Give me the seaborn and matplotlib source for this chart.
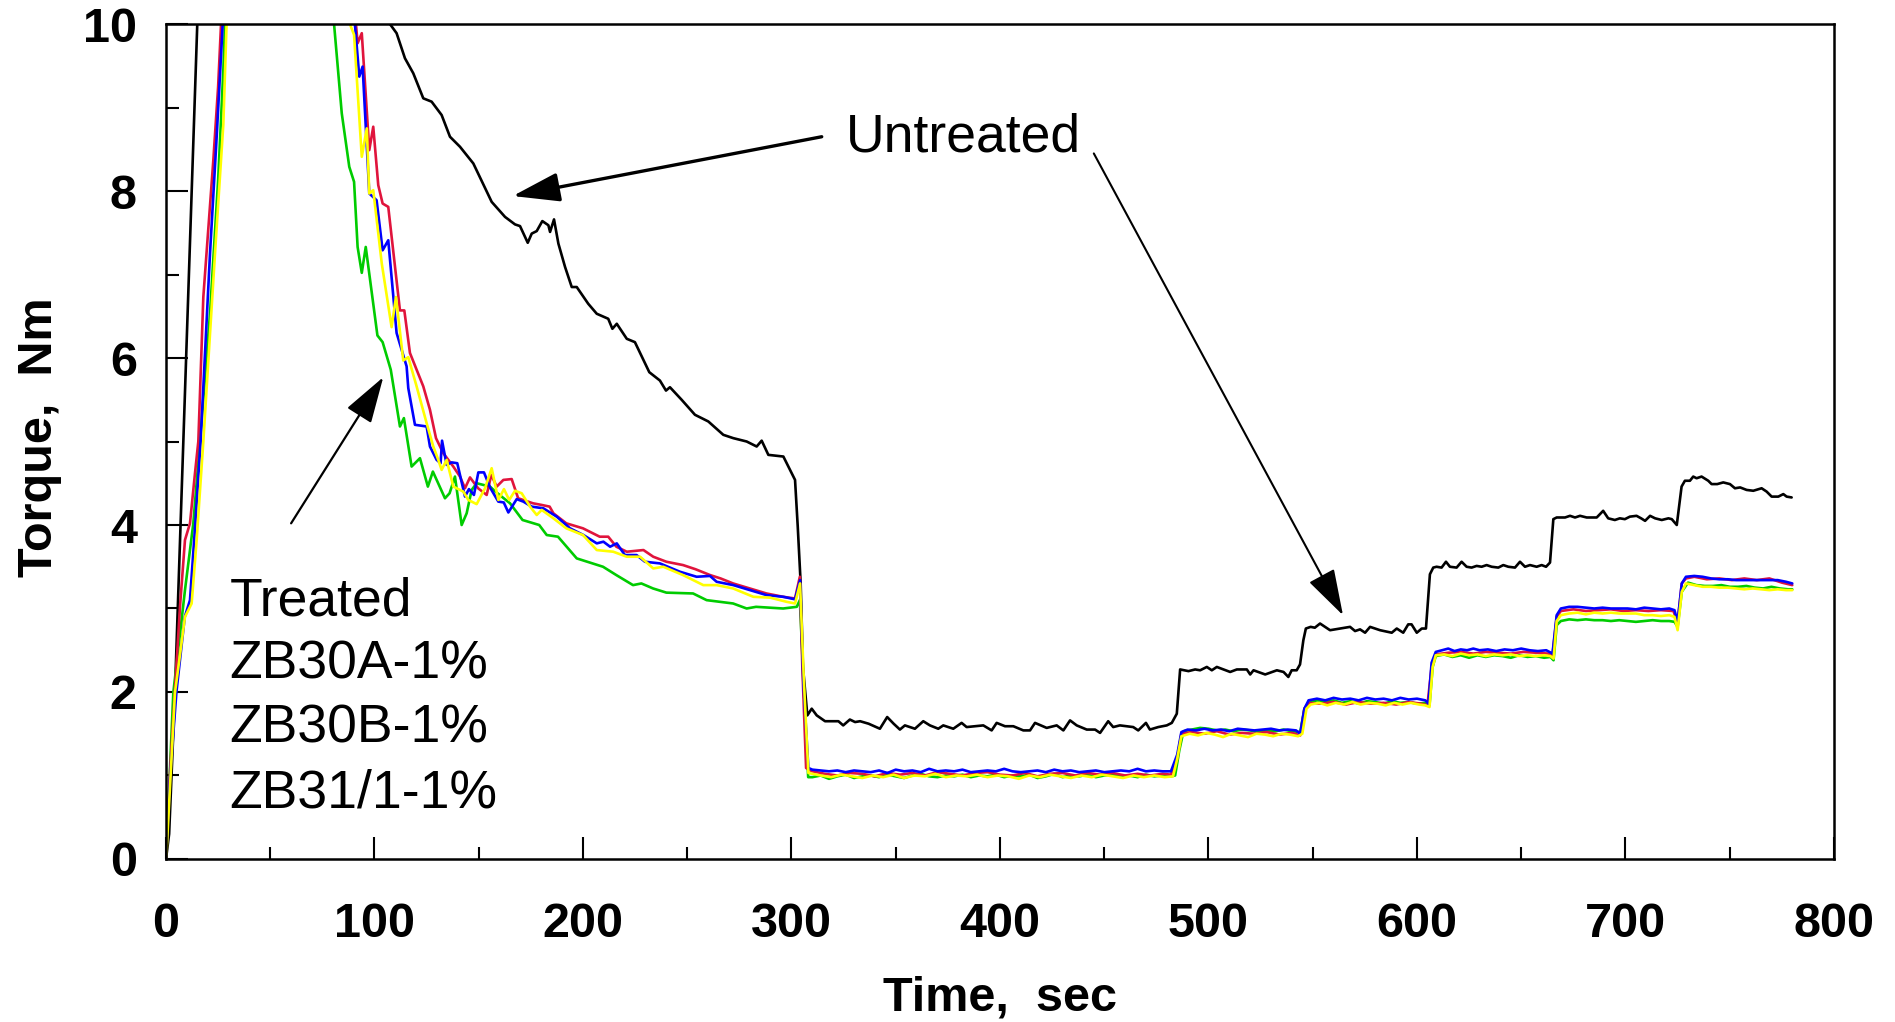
import numpy as np
import pandas as pd
import matplotlib
matplotlib.use("Agg")
import matplotlib.pyplot as plt
import seaborn as sns
from matplotlib.ticker import MultipleLocator

# torque traces as (time s, torque Nm)
# values above 10 are off the top of the plot and only keep the line going
untreated = [
    (0, 0), (1.5, 0.3), (4.3, 2.0), (8.3, 5.0), (15, 10.0), (18, 12.0), (60, 14.0), (104, 11.0),
    (107.4, 10.0), (110.6, 9.89), (114.6, 9.59), (118.6, 9.41), (123.4, 9.11), (127.4, 9.07),
    (132.2, 8.91), (136.2, 8.65), (141, 8.53), (147.4, 8.33), (156.2, 7.87), (162.6, 7.69),
    (167.4, 7.6), (169.8, 7.58), (173.5, 7.38), (175.4, 7.49), (177.8, 7.52), (180.5, 7.64),
    (183.4, 7.59), (184.2, 7.51), (186.1, 7.66), (188.2, 7.37), (191.4, 7.09), (194.6, 6.85),
    (197, 6.85), (202.5, 6.65), (206.6, 6.53), (212.1, 6.47), (214.1, 6.35), (216.2, 6.41),
    (221, 6.23), (224.9, 6.19), (231.8, 5.83), (236.9, 5.73), (239.8, 5.61), (241.7, 5.65),
    (247.3, 5.5), (253.7, 5.32), (260.1, 5.24), (267.3, 5.08), (272.1, 5.04), (278.5, 5.0),
    (283.3, 4.94), (285.7, 5.01), (288.9, 4.84), (296.1, 4.82), (299.3, 4.66), (301.7, 4.54),
    (303.0, 3.98), (304.4, 3.3), (305.5, 2.3), (307.6, 1.72), (309.7, 1.8), (312.1, 1.72),
    (316.1, 1.65), (322.5, 1.65), (324.8, 1.60), (328, 1.67), (330.5, 1.64), (332.9, 1.65),
    (337, 1.62), (342.4, 1.56), (345.9, 1.70), (349, 1.62), (352, 1.55), (354.4, 1.6),
    (359.2, 1.56), (363.2, 1.65), (366.4, 1.6), (370.4, 1.56), (372.8, 1.6), (377.6, 1.56),
    (381.6, 1.63), (384, 1.58), (392, 1.6), (396, 1.54), (398.4, 1.63), (402.4, 1.59),
    (406.4, 1.59), (411.2, 1.54), (414.4, 1.54), (416.8, 1.63), (422.4, 1.57), (427.2, 1.6),
    (430.4, 1.54), (433.6, 1.66), (436.8, 1.6), (441.6, 1.55), (445.6, 1.55), (448, 1.51),
    (451.9, 1.65), (454.3, 1.58), (457.5, 1.6), (463.9, 1.58), (466.3, 1.54), (470, 1.63),
    (471.9, 1.55), (475.9, 1.58), (480, 1.60), (482.4, 1.63), (484.8, 1.74), (486.4, 2.27),
    (490.4, 2.25), (493.6, 2.27), (496, 2.26), (499.2, 2.30), (501.6, 2.26), (504, 2.30),
    (510.4, 2.24), (513.6, 2.27), (518.4, 2.27), (520, 2.21), (521.6, 2.26), (527.2, 2.21),
    (532.8, 2.26), (536, 2.24), (538.3, 2.18), (539.9, 2.26), (542.3, 2.26), (543.9, 2.33),
    (545.5, 2.62), (546.7, 2.76), (549, 2.78), (551, 2.77), (553.5, 2.82), (558.3, 2.74),
    (563.1, 2.76), (567.9, 2.78), (570.3, 2.73), (572.7, 2.75), (575.1, 2.71), (577.5, 2.78),
    (582.3, 2.74), (587.9, 2.71), (590.3, 2.76), (593.4, 2.71), (595.8, 2.81), (597.4, 2.81),
    (599.9, 2.71), (602.3, 2.76), (604.3, 2.76), (606.2, 3.41), (607.8, 3.49), (609.4, 3.5),
    (611.8, 3.49), (613.9, 3.56), (615.8, 3.5), (619, 3.49), (621.4, 3.56), (623.8, 3.5),
    (626.2, 3.49), (628.6, 3.51), (631, 3.5), (633.4, 3.52), (635.8, 3.5), (639, 3.49),
    (641.4, 3.52), (643.8, 3.5), (647, 3.49), (649.4, 3.56), (651.8, 3.5), (654.2, 3.52),
    (657.4, 3.5), (659.8, 3.52), (661.9, 3.5), (663.8, 3.55), (665.4, 4.07), (667, 4.09),
    (671, 4.09), (673.4, 4.11), (675.8, 4.09), (678.2, 4.11), (681.4, 4.09), (686.2, 4.09),
    (689.3, 4.17), (691.7, 4.08), (694.9, 4.06), (697.3, 4.08), (699.7, 4.07), (702.1, 4.1),
    (705.3, 4.11), (707.5, 4.08), (709.4, 4.05), (711.8, 4.11), (714.2, 4.08), (717.4, 4.06),
    (720.6, 4.08), (722.2, 4.07), (724.6, 4.0), (726.9, 4.46), (728.5, 4.53), (730.9, 4.53),
    (732.5, 4.58), (734.1, 4.56), (736.5, 4.58), (739.7, 4.53), (741.3, 4.49), (744, 4.49),
    (746.9, 4.51), (750.1, 4.49), (752.5, 4.44), (755, 4.45), (758.1, 4.42), (761.3, 4.41),
    (765.3, 4.44), (767.7, 4.4), (770.1, 4.34), (773.3, 4.34), (775.7, 4.37), (777.3, 4.34),
    (779.7, 4.33),
]

green_trace = [
    (0, 0), (3.5, 1.99), (9.1, 3.22), (13.1, 4.02), (16.3, 5.0), (21.1, 6.53), (25, 8.13),
    (27.5, 9.45), (28.3, 10.0), (31, 12.5), (76, 12.5), (80.6, 10.0), (84.3, 8.93), (87.9, 8.29),
    (90.2, 8.11), (91.9, 7.33), (93.9, 7.02), (95.8, 7.33), (101.4, 6.27), (103.9, 6.19),
    (107.8, 5.86), (112.2, 5.18), (114.1, 5.28), (117.8, 4.7), (121.8, 4.8), (125.6, 4.46),
    (128, 4.64), (133.8, 4.32), (136, 4.38), (138.6, 4.58), (141.8, 4.0), (144.2, 4.14),
    (146.6, 4.42), (149, 4.5), (155.4, 4.46), (158, 4.4), (165, 4.26), (171, 4.06), (179, 4.0),
    (182.6, 3.88), (188, 3.86), (197, 3.6), (209.6, 3.5), (216, 3.4), (224, 3.28), (228, 3.3),
    (233.6, 3.24), (240, 3.19), (252.8, 3.18), (259.3, 3.10), (272, 3.06), (278.5, 3.0),
    (283, 3.02), (296, 3.0), (302.5, 3.02), (304, 3.1), (306, 2.0), (308, 0.98),
    (310, 0.98), (314, 1.0), (318, 0.96), (322, 0.99), (326, 1.01), (330, 0.97), (334, 0.99),
    (338, 1.0), (342, 0.98), (346, 1.01), (350, 0.99), (354, 0.97), (358, 1.0), (362, 1.02),
    (366, 0.99), (370, 0.98), (374, 1.0), (378, 0.99), (382, 1.01), (386, 0.98), (390, 1.0),
    (394, 0.99), (398, 1.01), (402, 0.98), (406, 1.0), (410, 0.99), (414, 1.01), (418, 0.97),
    (422, 0.99), (426, 1.02), (430, 0.98), (434, 1.0), (438, 0.99), (442, 1.01), (446, 0.98),
    (450, 1.0), (454, 1.01), (458, 0.99), (462, 1.0), (466, 0.98), (470, 1.01), (474, 0.99),
    (478, 1.0), (482, 0.99), (484, 1.0), (486, 1.3), (488, 1.53), (492, 1.55), (496, 1.57),
    (500, 1.56), (504, 1.54), (508, 1.55), (512, 1.53), (516, 1.55), (520, 1.54), (524, 1.52),
    (528, 1.54), (532, 1.53), (536, 1.55), (540, 1.53), (544, 1.52), (546, 1.8), (548, 1.87),
    (552, 1.9), (556, 1.88), (560, 1.9), (564, 1.87), (568, 1.89), (572, 1.86), (576, 1.89),
    (580, 1.88), (584, 1.86), (588, 1.89), (592, 1.87), (596, 1.88), (600, 1.86), (604, 1.87),
    (606, 1.84), (607.5, 2.3), (609, 2.43), (613, 2.45), (617, 2.42), (621, 2.44), (625, 2.41),
    (629, 2.44), (633, 2.42), (637, 2.44), (641, 2.43), (645, 2.41), (649, 2.44), (653, 2.42),
    (657, 2.43), (661, 2.41), (664, 2.42), (665.5, 2.38), (667, 2.8), (669, 2.85), (673, 2.87),
    (677, 2.86), (681, 2.87), (685, 2.86), (689, 2.86), (693, 2.85), (697, 2.86), (701, 2.85),
    (705, 2.84), (709, 2.85), (713, 2.86), (717, 2.85), (721, 2.85), (723.5, 2.84), (725, 2.78),
    (727, 3.2), (730, 3.31), (734, 3.28), (738, 3.27), (742, 3.27), (746, 3.28), (750, 3.26),
    (754, 3.26), (758, 3.27), (762, 3.25), (766, 3.24), (770, 3.26), (774, 3.24), (778, 3.23),
    (780, 3.23),
]

red_trace = [
    (0, 0), (1.9, 1.03), (4.3, 2.02), (6.7, 3.02), (9.1, 3.82), (11.5, 4.02), (13.9, 4.62),
    (15.5, 5.0), (17.9, 6.73), (22.7, 8.37), (25, 9.25), (26.4, 10.0), (30, 12.5), (85, 12.5),
    (91.1, 10.0), (91.9, 9.77), (93.9, 9.89), (97.5, 8.49), (99.4, 8.77), (101.8, 8.07),
    (103.9, 7.85), (106.6, 7.81), (112.2, 6.57), (114.3, 6.57), (117, 6.06), (123.4, 5.66),
    (126.6, 5.38), (129.5, 5.04), (133, 4.86), (137.8, 4.70), (141, 4.58), (143.4, 4.44),
    (145.8, 4.57), (149.7, 4.44), (153.8, 4.36), (156, 4.6), (158.6, 4.46), (161.8, 4.54),
    (165.8, 4.55), (168.9, 4.32), (176, 4.26), (180.2, 4.24), (184, 4.22), (185.8, 4.14),
    (192, 4.02), (200, 3.96), (208, 3.86), (212.1, 3.86), (216, 3.74), (221, 3.68), (229, 3.70),
    (233.7, 3.62), (240, 3.56), (248, 3.52), (254, 3.47), (261, 3.40), (266, 3.36), (272, 3.30),
    (280, 3.24), (288, 3.18), (296, 3.14), (301.7, 3.12), (304, 3.38), (305.2, 2.3), (307, 1.09),
    (310, 1.05), (316, 1.02), (322, 1.0), (328, 1.03), (334, 1.02), (340, 0.99), (346, 1.03),
    (352, 1.01), (358, 1.03), (364, 1.0), (370, 1.04), (376, 1.02), (382, 1.0), (388, 1.03),
    (394, 1.04), (400, 1.01), (406, 1.0), (412, 1.03), (418, 0.99), (424, 1.02), (430, 1.03),
    (436, 1.0), (442, 1.03), (448, 1.01), (454, 1.03), (460, 1.0), (466, 1.02), (472, 1.0),
    (478, 1.02), (482, 1.01), (485, 1.2), (487, 1.5), (492, 1.52), (498, 1.5), (504, 1.53),
    (510, 1.49), (516, 1.51), (522, 1.5), (528, 1.52), (534, 1.49), (540, 1.51), (544, 1.48),
    (546, 1.8), (548, 1.87), (554, 1.86), (560, 1.88), (566, 1.85), (572, 1.88), (578, 1.86),
    (584, 1.87), (590, 1.85), (596, 1.88), (602, 1.86), (605, 1.84), (607, 2.3), (609, 2.45),
    (615, 2.47), (621, 2.48), (627, 2.46), (633, 2.48), (639, 2.47), (645, 2.46), (651, 2.48),
    (657, 2.47), (663, 2.46), (665, 2.44), (667, 2.9), (669, 2.97), (675, 2.99), (681, 2.97),
    (687, 2.98), (693, 2.99), (699, 2.97), (705, 2.98), (711, 2.97), (717, 2.98), (723, 2.97),
    (725, 2.83), (727, 3.3), (729, 3.36), (733, 3.38), (739, 3.35), (745, 3.36), (751, 3.34),
    (757, 3.36), (763, 3.34), (769, 3.36), (775, 3.31), (780, 3.28),
]

blue_trace = [
    (0, 0), (2, 1.0), (5, 2.0), (9, 2.9), (11.5, 3.1), (14, 4.0), (16.6, 5.0), (21.1, 7.25),
    (24.3, 8.65), (27.2, 10.0), (30, 12.5), (85, 12.5), (90.6, 10.0), (92.7, 9.37), (94.3, 9.49),
    (97.5, 7.97), (101, 7.89), (103.9, 7.29), (106.6, 7.41), (110.6, 6.3), (115.4, 5.9),
    (116.2, 5.64), (119.4, 5.20), (125, 5.18), (126.6, 4.94), (129.8, 4.78), (131.7, 4.74),
    (132.4, 5.01), (134.6, 4.72), (137, 4.75), (139.7, 4.74), (143.4, 4.34), (145.3, 4.43),
    (147.7, 4.36), (149.8, 4.63), (152.5, 4.63), (155.4, 4.45), (159.4, 4.28), (162, 4.27),
    (164.2, 4.15), (168.2, 4.31), (171.4, 4.28), (175.4, 4.22), (181, 4.2), (187.4, 4.10),
    (193.8, 3.96), (200.2, 3.88), (206.6, 3.78), (209.8, 3.80), (213, 3.74), (216.2, 3.78),
    (220.1, 3.64), (225.7, 3.64), (229.7, 3.56), (236.9, 3.54), (246.5, 3.44), (254.5, 3.38),
    (260.9, 3.39), (264.1, 3.32), (272.1, 3.28), (280.1, 3.22), (288.1, 3.16), (296.1, 3.14),
    (301.7, 3.11), (304.1, 3.34), (305.7, 2.1), (308.1, 1.09),
    (310, 1.07), (314, 1.06), (318, 1.05), (322, 1.06), (326, 1.04), (330, 1.06), (334, 1.05),
    (338, 1.04), (342, 1.06), (346, 1.03), (350, 1.07), (354, 1.05), (358, 1.06), (362, 1.04),
    (366, 1.08), (370, 1.05), (374, 1.06), (378, 1.05), (382, 1.07), (386, 1.04), (390, 1.05),
    (394, 1.06), (398, 1.05), (402, 1.08), (406, 1.05), (410, 1.04), (414, 1.05), (418, 1.06),
    (422, 1.04), (426, 1.07), (430, 1.05), (434, 1.06), (438, 1.04), (442, 1.05), (446, 1.06),
    (450, 1.04), (454, 1.05), (458, 1.06), (462, 1.05), (466, 1.08), (470, 1.05), (474, 1.06),
    (478, 1.05), (482, 1.05), (485, 1.25), (487, 1.52), (490, 1.55), (494, 1.54), (498, 1.56),
    (502, 1.54), (506, 1.55), (510, 1.53), (514, 1.56), (518, 1.55), (522, 1.54), (526, 1.55),
    (530, 1.56), (534, 1.54), (538, 1.55), (542, 1.54), (544, 1.50), (546, 1.8), (548, 1.90),
    (552, 1.92), (556, 1.9), (560, 1.93), (564, 1.91), (568, 1.92), (572, 1.9), (576, 1.93),
    (580, 1.91), (584, 1.92), (588, 1.9), (592, 1.93), (596, 1.91), (600, 1.92), (604, 1.9),
    (605.5, 1.86), (607, 2.35), (609, 2.48), (612, 2.5), (615, 2.52), (618, 2.49), (621, 2.51),
    (624, 2.5), (627, 2.52), (630, 2.5), (634, 2.51), (638, 2.49), (642, 2.51), (646, 2.5),
    (650, 2.52), (654, 2.5), (658, 2.49), (662, 2.5), (665, 2.46), (667, 2.92), (669, 3.0),
    (673, 3.02), (677, 3.02), (681, 3.01), (685, 3.0), (689, 3.01), (693, 3.0), (697, 3.0),
    (701, 3.0), (705, 2.99), (709, 3.01), (713, 3.0), (717, 2.99), (721, 3.0), (723.5, 2.98),
    (725, 2.84), (727, 3.3), (729, 3.38), (733, 3.39), (737, 3.38), (741, 3.36), (745, 3.35),
    (749, 3.35), (753, 3.34), (757, 3.34), (761, 3.34), (765, 3.34), (769, 3.34), (773, 3.34),
    (777, 3.32), (780, 3.3),
]

yellow_trace = [
    (0, 0), (0.3, 0.1), (4.3, 1.99), (9.1, 2.9), (12.3, 3.06), (14.7, 3.82), (17.9, 5.0),
    (23.5, 7.25), (27.5, 8.8), (29.1, 10.0), (32, 12.5), (85, 12.5), (88.2, 10.0), (90.2, 9.87),
    (93.9, 8.41), (96.3, 8.75), (97.5, 7.97), (99.4, 8.01), (103.5, 7.13), (108.2, 6.37),
    (110.3, 6.73), (113.8, 5.97), (116.2, 6.01), (120.2, 5.66), (125, 5.22), (128.2, 4.94),
    (130.6, 4.78), (132.2, 4.66), (134.6, 4.78), (137.8, 4.46), (142.6, 4.40), (145, 4.30),
    (149, 4.25), (153, 4.44), (156.2, 4.68), (159.4, 4.30), (162.1, 4.43), (164.6, 4.30),
    (167.4, 4.41), (170.6, 4.38), (174.6, 4.22), (177.8, 4.12), (180.2, 4.18), (185.8, 4.08),
    (192, 3.96), (200, 3.88), (206.6, 3.70), (214.5, 3.68), (221, 3.62), (227.4, 3.62),
    (233.7, 3.48), (238.5, 3.50), (248, 3.40), (257.7, 3.28), (264.1, 3.28), (272, 3.24),
    (281.7, 3.14), (289.7, 3.13), (297.7, 3.08), (301.7, 3.06), (304.1, 3.30), (306, 2.1),
    (308.1, 1.03),
    (310, 1.02), (314, 1.0), (319, 0.98), (324, 1.01), (329, 0.99), (334, 0.97), (339, 1.0),
    (344, 0.98), (349, 1.01), (354, 0.97), (359, 1.0), (364, 0.99), (369, 1.02), (374, 0.98),
    (379, 1.0), (384, 0.99), (389, 1.01), (394, 0.98), (399, 1.0), (404, 0.99), (409, 0.96),
    (414, 1.0), (419, 0.98), (424, 1.01), (429, 0.99), (434, 0.97), (439, 1.0), (444, 0.98),
    (449, 1.01), (454, 0.99), (459, 0.97), (464, 1.0), (469, 0.98), (474, 1.0), (479, 0.98),
    (483, 0.99), (485, 1.2), (487, 1.47), (491, 1.5), (495, 1.48), (499, 1.51), (503, 1.49),
    (507, 1.46), (511, 1.5), (515, 1.48), (519, 1.46), (523, 1.5), (527, 1.49), (531, 1.47),
    (535, 1.5), (539, 1.49), (543, 1.47), (545, 1.5), (547, 1.8), (549, 1.85), (553, 1.87),
    (557, 1.84), (561, 1.87), (565, 1.85), (569, 1.88), (573, 1.85), (577, 1.87), (581, 1.86),
    (585, 1.84), (589, 1.87), (593, 1.85), (597, 1.87), (601, 1.85), (604, 1.84), (606, 1.82),
    (607.5, 2.3), (609, 2.44), (613, 2.45), (617, 2.43), (621, 2.46), (625, 2.44), (629, 2.45),
    (633, 2.43), (637, 2.45), (641, 2.44), (645, 2.45), (649, 2.43), (653, 2.44), (657, 2.43),
    (661, 2.44), (664, 2.43), (665.5, 2.4), (667, 2.85), (669, 2.92), (673, 2.94), (677, 2.95),
    (681, 2.93), (685, 2.95), (689, 2.94), (693, 2.95), (697, 2.94), (701, 2.94), (705, 2.94),
    (709, 2.92), (713, 2.92), (717, 2.91), (721, 2.92), (723.5, 2.9), (725, 2.74), (727, 3.2),
    (729, 3.3), (733, 3.28), (737, 3.26), (741, 3.26), (745, 3.25), (749, 3.25), (753, 3.24),
    (757, 3.23), (761, 3.24), (765, 3.23), (769, 3.22), (773, 3.23), (777, 3.22), (780, 3.22),
]

x_ticks = [0, 100, 200, 300, 400, 500, 600, 700, 800]
y_ticks = [0, 2, 4, 6, 8, 10]
legend_lines = ["Treated", "ZB30A-1%", "ZB30B-1%", "ZB31/1-1%"]

sns.set_style("ticks", {"axes.edgecolor": "black", "xtick.color": "black",
                        "ytick.color": "black", "text.color": "black",
                        "axes.labelcolor": "black"})
plt.rcParams['font.family'] = ['Liberation Sans', 'DejaVu Sans']

fig = plt.figure(figsize=(18.95, 10.22), dpi=100)
ax = fig.add_axes([0.0876, 0.1595, 0.8802, 0.8170])

# black first, yellow ends up on top like in the original
traces = [(untreated, "black"), (green_trace, "#00cc00"), (red_trace, "#e0143c"),
          (blue_trace, "#0000ff"), (yellow_trace, "#ffff00")]
for pts, col in traces:
    df = pd.DataFrame(pts, columns=["time", "torque"])
    sns.lineplot(data=df, x="time", y="torque", color=col, lw=1.9,
                 estimator=None, sort=False, ax=ax)

ax.set_xlim(0, 800)
ax.set_ylim(0, 10)
ax.set_xticks(x_ticks, [str(v) for v in x_ticks], fontweight="bold")
ax.set_yticks(y_ticks, [str(v) for v in y_ticks], fontweight="bold")
ax.xaxis.set_minor_locator(MultipleLocator(50))
ax.yaxis.set_minor_locator(MultipleLocator(1))
ax.tick_params(which="both", direction="in", top=False, right=False, width=1.5)
ax.tick_params(which="major", length=16)
ax.tick_params(which="minor", length=9)
ax.tick_params(axis="x", which="major", pad=31, labelsize=35)
ax.tick_params(axis="y", which="major", pad=21, labelsize=35)
for s in ax.spines.values():
    s.set_linewidth(1.8)
    s.set_color("black")

ax.set_xlabel("Time,  sec", fontsize=35, fontweight="bold")
ax.set_ylabel("Torque,  Nm", fontsize=35, fontweight="bold")
ax.xaxis.set_label_coords(0.5, -0.140)
ax.yaxis.set_label_coords(-0.0624, 0.505)

# annotations
ax.text(326, 8.47, "Untreated", fontsize=38.5, ha="left", va="baseline")
for line, yb in zip(legend_lines, [2.92, 2.16, 1.39, 0.62]):
    ax.text(30.5, yb, line, fontsize=38.5, ha="left", va="baseline")

head = "-|>,head_length=1.45,head_width=0.45"
ax.annotate("", xy=(166.3, 7.94), xytext=(314.5, 8.65),
            arrowprops=dict(arrowstyle=head, lw=2.4, color="black",
                            mutation_scale=20, shrinkA=0, shrinkB=0))
ax.annotate("", xy=(564.5, 2.92), xytext=(445, 8.45),
            arrowprops=dict(arrowstyle=head, lw=1.5, color="black",
                            mutation_scale=20, shrinkA=0, shrinkB=0))
ax.annotate("", xy=(104.2, 5.77), xytext=(60, 4.02),
            arrowprops=dict(arrowstyle=head, lw=1.6, color="black",
                            mutation_scale=20, shrinkA=0, shrinkB=0))

fig.savefig("out.png", dpi=100)
